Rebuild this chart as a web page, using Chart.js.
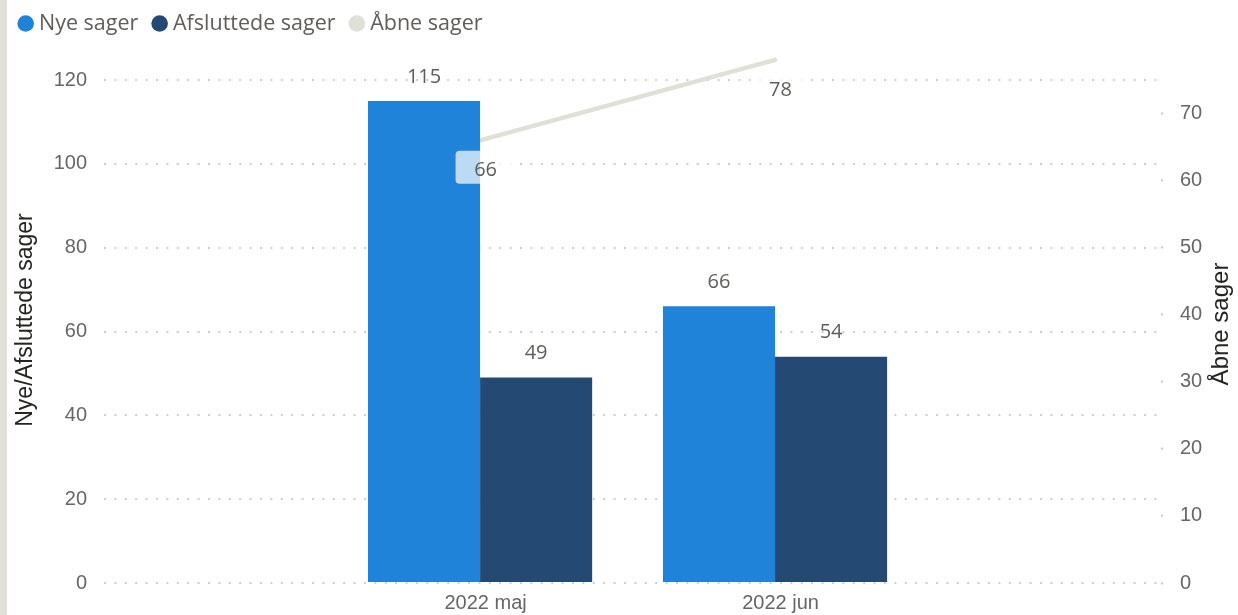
<!DOCTYPE html>
<html><head><meta charset="utf-8">
<script src="https://cdn.jsdelivr.net/npm/chart.js@4"></script>
<style>
html,body{margin:0;padding:0;background:#fff;overflow:hidden}
#wrap{position:relative;width:1238px;height:615px}
#strip{position:absolute;left:0;top:0;width:7px;height:615px;background:#E1E1D9;z-index:2}
canvas{position:absolute;left:0;top:0}
</style></head><body>
<div id="wrap"><div id="strip"></div><canvas id="c" width="1238" height="615"></canvas></div>
<script>
const categories = ['2022 maj', '2022 jun'];
const nyeSager = [115, 66];
const afsluttedeSager = [49, 54];
const aabneSager = [66, 78];
const leftTicks = [0, 20, 40, 60, 80, 100, 120];
const rightTicks = [0, 10, 20, 30, 40, 50, 60, 70];
const seriesNames = ['Nye sager', 'Afsluttede sager', 'Åbne sager'];
const seriesColors = ['#1F83DA', '#244A74', '#DFE0D6'];
const leftTitle = 'Nye/Afsluttede sager';
const rightTitle = 'Åbne sager';

const toPoints = arr => arr.map((v, i) => ({x: i, y: v}));

const TICK_FONT = {family: 'Liberation Sans', size: 20};
const TICK_COLOR = '#666666';
const LABEL_COLOR = '#605E5C';

const overlay = {
  id: 'overlay',
  afterDatasetsDraw(chart) {
    const ctx = chart.ctx;
    ctx.save();
    ctx.font = '20px "Open Sans"';
    ctx.fillStyle = LABEL_COLOR;
    ctx.textAlign = 'center';
    ctx.textBaseline = 'middle';
    chart.data.datasets.forEach((ds, di) => {
      const meta = chart.getDatasetMeta(di);
      meta.data.forEach((el, i) => {
        const v = ds.data[i].y;
        if (ds.type === 'line') {
          const cx = el.x + 5.5, cy = el.y + 27;
          ctx.fillStyle = 'rgba(255,255,255,0.7)';
          ctx.beginPath();
          ctx.roundRect(cx - 30, cy - 16.5, 60, 33, 4);
          ctx.fill();
          ctx.fillStyle = LABEL_COLOR;
          ctx.fillText(String(v), cx, el.y + 30);
        } else {
          ctx.fillText(String(v), el.x, el.y - 24);
        }
      });
    });
    ctx.restore();
  },
  afterDraw(chart) {
    const ctx = chart.ctx;
    ctx.save();
    // legend
    ctx.font = '21.5px "Open Sans"';
    ctx.textBaseline = 'middle';
    ctx.textAlign = 'left';
    let x = 17.4;
    chart.data.datasets.forEach((ds, i) => {
      ctx.fillStyle = seriesColors[i];
      ctx.beginPath();
      ctx.arc(x + 8.3, 23.5, 8.3, 0, Math.PI * 2);
      ctx.fill();
      ctx.fillStyle = '#605E5C';
      const tx = x + 21.6;
      ctx.fillText(ds.label, tx, 23.5);
      x = tx + ctx.measureText(ds.label).width + 13;
    });
    // axis titles
    ctx.fillStyle = '#252423';
    ctx.textAlign = 'center';
    ctx.textBaseline = 'middle';
    ctx.save();
    ctx.font = '23px "Liberation Sans"';
    ctx.translate(26, 320);
    ctx.rotate(-Math.PI / 2);
    ctx.fillText(leftTitle, 0, 0);
    ctx.restore();
    ctx.save();
    ctx.font = '24px "Liberation Sans"';
    ctx.translate(1221, 324);
    ctx.rotate(-Math.PI / 2);
    ctx.fillText(rightTitle, 0, 0);
    ctx.restore();
    ctx.restore();
  }
};

new Chart(document.getElementById('c'), {
  type: 'bar',
  data: {
    datasets: [
      {label: seriesNames[0], data: toPoints(nyeSager), backgroundColor: seriesColors[0], yAxisID: 'y',
       categoryPercentage: 0.76, barPercentage: 1.0},
      {label: seriesNames[1], data: toPoints(afsluttedeSager), backgroundColor: seriesColors[1], yAxisID: 'y',
       categoryPercentage: 0.76, barPercentage: 1.0},
      {type: 'line', label: seriesNames[2], data: toPoints(aabneSager), borderColor: seriesColors[2],
       backgroundColor: seriesColors[2], yAxisID: 'y1', borderWidth: 4.5, borderCapStyle: 'round',
       pointRadius: 0, pointHoverRadius: 0, tension: 0, fill: false, clip: false}
    ]
  },
  options: {
    responsive: false,
    animation: false,
    devicePixelRatio: 1,
    layout: {padding: {top: 80, left: 0, right: 0, bottom: 0}},
    plugins: {legend: {display: false}, tooltip: {enabled: false}},
    scales: {
      x: {
        type: 'linear', min: -1.275, max: 2.295, offset: false,
        grid: {display: false, drawTicks: false}, border: {display: false},
        afterBuildTicks: s => { s.ticks = categories.map((c, i) => ({value: i})); },
        afterFit: s => { s.height = 32; },
        ticks: {callback: v => categories[v], font: TICK_FONT, color: TICK_COLOR, padding: 8,
                labelOffset: 5.5, maxRotation: 0, autoSkip: false}
      },
      y: {
        position: 'left', min: 0, max: 120,
        afterBuildTicks: s => { s.ticks = leftTicks.map(v => ({value: v})); },
        afterFit: s => { s.width = 104; },
        grid: {color: '#CFCFCF', lineWidth: 2, drawTicks: false},
        border: {display: false, dash: [2, 8.4]},
        ticks: {font: TICK_FONT, color: TICK_COLOR, padding: 17}
      },
      y1: {
        position: 'right', min: 0, max: 75,
        afterBuildTicks: s => { s.ticks = rightTicks.map(v => ({value: v})); },
        afterFit: s => { s.width = 81; },
        grid: {drawOnChartArea: false, drawTicks: true, tickLength: 10, tickColor: '#C8C8C8',
               tickWidth: 2, tickBorderDash: [0, 4, 2, 100]},
        border: {display: false},
        ticks: {font: TICK_FONT, color: TICK_COLOR, padding: 13}
      }
    }
  },
  plugins: [overlay]
});
</script>
</body></html>
